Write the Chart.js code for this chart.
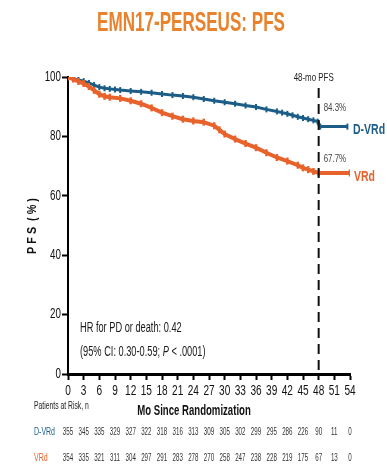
<!DOCTYPE html>
<html>
<head>
<meta charset="utf-8">
<script src="https://cdn.jsdelivr.net/npm/chart.js@4.4.1/dist/chart.umd.min.js"></script>
<style>
  html, body { margin: 0; padding: 0; background: #fff; }
  #wrap { width: 387px; height: 465px; }
</style>
</head>
<body>
<div id="wrap"><canvas id="pfsChart" width="387" height="465"></canvas></div>
<script>
// KM curves, months since randomization vs PFS %
const dvrdMonths = [0, 1, 2, 3, 4, 5, 6, 7, 8, 9, 10, 12, 14, 16, 18, 20, 22, 24, 26, 28, 30, 32, 34, 36, 38, 40, 41, 42, 43, 44, 45, 46, 47, 47.8, 48, 48.3, 53.5];
const dvrdPfs    = [100, 99.5, 99, 98.6, 98.0, 97.3, 96.6, 96.2, 96, 95.8, 95.6, 95.3, 95.0, 94.7, 94.3, 93.9, 93.6, 93.2, 92.6, 92.0, 91.5, 91.0, 90.4, 89.9, 89.1, 88.4, 88.0, 87.6, 87.1, 86.6, 86.2, 85.8, 85.4, 85.0, 84.3, 83.3, 83.3];

const vrdMonths = [0, 1, 2, 3, 4, 5, 6, 7, 8, 10, 12, 14, 16, 18, 20, 22, 24, 26, 28, 29, 30, 32, 34, 36, 38, 40, 42, 44, 45, 46, 47, 48, 54];
const vrdPfs    = [100, 99.3, 98.5, 97.8, 96.8, 95.5, 94.2, 93.5, 93.2, 92.8, 92.0, 91.0, 89.6, 88.0, 86.8, 85.8, 85.2, 84.8, 83.6, 82.2, 80.8, 79.1, 77.6, 76.2, 74.5, 72.9, 71.7, 70.3, 69.4, 68.8, 68.2, 67.7, 67.7];

// x ticks and patients at risk at each of them
const riskMonths = [0, 3, 6, 9, 12, 15, 18, 21, 24, 27, 30, 33, 36, 39, 42, 45, 48, 51, 54];
const dvrdAtRisk = [355, 345, 335, 329, 327, 322, 318, 316, 313, 309, 305, 302, 299, 295, 286, 226, 90, 11, 0];
const vrdAtRisk  = [354, 335, 321, 311, 304, 297, 291, 283, 278, 270, 258, 247, 238, 228, 219, 175, 67, 13, 0];
const pfsTicks = [0, 20, 40, 60, 80, 100];

const landmarkMonth = 48;
const dvrdLandmark = 84.3;
const vrdLandmark = 67.7;

const BLUE = '#1b5d86';
const ORANGE = '#e8622b';
const TITLE_ORANGE = '#e8822c';
const SANS = "'Liberation Sans', Arial, sans-serif";

function toPoints(xs, ys) {
  return xs.map((x, i) => ({ x: x, y: ys[i] }));
}

// condensed text: the face is squeezed horizontally by sx
function text(ctx, str, x, y, font, sx, align, color) {
  ctx.save();
  ctx.font = font;
  ctx.fillStyle = color;
  ctx.textBaseline = 'middle';
  ctx.textAlign = 'left';
  const w = ctx.measureText(str).width * sx;
  let x0 = x;
  if (align === 'center') x0 = x - w / 2;
  else if (align === 'right') x0 = x - w;
  ctx.translate(x0, y);
  ctx.scale(sx, 1);
  ctx.fillText(str, 0, 0);
  ctx.restore();
  return w;
}

const extras = {
  id: 'extras',
  afterDatasetsDraw(chart) {
    const { ctx, scales } = chart;
    const xs = scales.x, ys = scales.y;
    const lx = xs.getPixelForValue(landmarkMonth);

    ctx.save();
    // dashed 48-month line
    ctx.strokeStyle = '#111';
    ctx.lineWidth = 2;
    ctx.setLineDash([10, 6]);
    ctx.beginPath();
    ctx.moveTo(lx, 88);
    ctx.lineTo(lx, ys.getPixelForValue(0));
    ctx.stroke();
    ctx.restore();

    // tick labels
    riskMonths.forEach(m => {
      text(ctx, String(m), xs.getPixelForValue(m), 391, "14px " + SANS, 0.72, 'center', '#111');
    });
    pfsTicks.forEach(v => {
      text(ctx, String(v), 61, ys.getPixelForValue(v), "14px " + SANS, 0.7, 'right', '#111');
    });

    text(ctx, '48-mo PFS', lx - 5, 78, "11px " + SANS, 0.72, 'center', '#222');
    text(ctx, dvrdLandmark.toFixed(1) + '%', lx + 5, 108, "11px " + SANS, 0.72, 'left', '#444');
    text(ctx, vrdLandmark.toFixed(1) + '%', lx + 5, 159, "11px " + SANS, 0.72, 'left', '#444');
    text(ctx, 'D-VRd', 353, 130, "bold 15px " + SANS, 0.7, 'left', BLUE);
    text(ctx, 'VRd', 354, 177, "bold 15px " + SANS, 0.7, 'left', ORANGE);

    // hazard ratio
    const hx = 80;
    text(ctx, 'HR for PD or death: 0.42', hx, 328, "14px " + SANS, 0.66, 'left', '#1a1a1a');
    let cx = hx;
    cx += text(ctx, '(95% CI: 0.30-0.59; ', cx, 352, "14px " + SANS, 0.66, 'left', '#1a1a1a');
    cx += text(ctx, 'P', cx, 352, "italic 14px " + SANS, 0.66, 'left', '#1a1a1a');
    text(ctx, ' < .0001)', cx, 352, "14px " + SANS, 0.66, 'left', '#1a1a1a');

    // axis titles
    text(ctx, 'Mo Since Randomization', 194, 411, "bold 15px " + SANS, 0.64, 'center', '#111');
    ctx.save();
    ctx.translate(33, 226);
    ctx.rotate(-Math.PI / 2);
    text(ctx, 'P F S  ( % )', 0, 0, "bold 12px " + SANS, 0.9, 'center', '#111');
    ctx.restore();

    // at-risk table
    text(ctx, 'Patients at Risk, n', 34, 406, "10px " + SANS, 0.68, 'left', '#222');
    text(ctx, 'D-VRd', 34, 432, "10px " + SANS, 0.7, 'left', BLUE);
    text(ctx, 'VRd', 34, 458, "10px " + SANS, 0.7, 'left', ORANGE);
    riskMonths.forEach((m, i) => {
      const px = xs.getPixelForValue(m);
      text(ctx, String(dvrdAtRisk[i]), px, 432, "10px " + SANS, 0.62, 'center', '#333');
      text(ctx, String(vrdAtRisk[i]), px, 458, "10px " + SANS, 0.62, 'center', '#333');
    });

    // title
    text(ctx, 'EMN17-PERSEUS: PFS', 191, 23, "bold 28px " + SANS, 0.61, 'center', TITLE_ORANGE);
  }
};

new Chart(document.getElementById('pfsChart'), {
  type: 'line',
  data: {
    datasets: [
      {
        label: 'VRd',
        data: toPoints(vrdMonths, vrdPfs),
        borderColor: ORANGE,
        backgroundColor: ORANGE,
        borderWidth: 4,
        tension: 0,
        pointStyle: 'line',
        rotation: 90,
        pointRadius: 3.5,
        pointBorderWidth: 2.5,
        pointBorderColor: ORANGE
      },
      {
        label: 'D-VRd',
        data: toPoints(dvrdMonths, dvrdPfs),
        borderColor: BLUE,
        backgroundColor: BLUE,
        borderWidth: 3,
        tension: 0,
        pointStyle: 'line',
        rotation: 90,
        pointRadius: 3,
        pointBorderWidth: 2,
        pointBorderColor: BLUE
      }
    ]
  },
  options: {
    responsive: false,
    animation: false,
    layout: { padding: { left: 0, top: 77, right: 37, bottom: 0 } },
    plugins: { legend: { display: false }, tooltip: { enabled: false } },
    scales: {
      x: {
        type: 'linear',
        min: 0,
        max: 54,
        afterFit: s => { s.height = 91; },
        ticks: { stepSize: 3, autoSkip: false, maxRotation: 0, color: 'rgba(0,0,0,0)', font: { size: 12 } },
        grid: { drawOnChartArea: false, drawTicks: true, tickLength: 6, tickColor: '#000', tickWidth: 2 },
        border: { color: '#000', width: 3 }
      },
      y: {
        min: 0,
        max: 100,
        afterFit: s => { s.width = 68; },
        ticks: { stepSize: 20, color: 'rgba(0,0,0,0)', font: { size: 12 } },
        grid: { drawOnChartArea: false, drawTicks: true, tickLength: 6, tickColor: '#000', tickWidth: 2 },
        border: { color: '#000', width: 2 }
      }
    }
  },
  plugins: [extras]
});
</script>
</body>
</html>
